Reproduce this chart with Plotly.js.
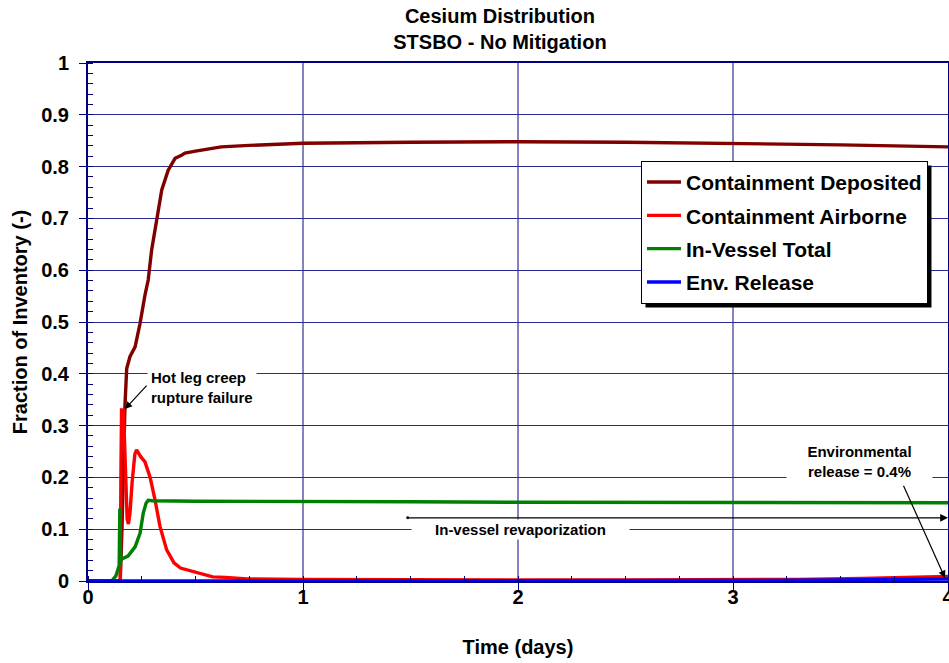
<!DOCTYPE html>
<html>
<head>
<meta charset="utf-8">
<script src="https://cdn.plot.ly/plotly-3.0.1.min.js"></script>
<style>html,body{margin:0;padding:0;background:#fff;}#chart{width:949px;height:663px;}</style>
</head>
<body>
<div id="chart"></div>
<script>
// ---- Data ----
const seriesNames = ["Containment Deposited", "Containment Airborne", "In-Vessel Total", "Env. Release"];

const depositedTime = [0, 0.15, 0.158, 0.165, 0.172, 0.18, 0.195, 0.219, 0.242, 0.265, 0.28, 0.296, 0.32, 0.343, 0.373, 0.405, 0.435, 0.451, 0.5, 0.59, 0.62, 0.75, 1.0, 1.5, 2.0, 2.5, 3.0, 3.5, 4.0];
const depositedValue = [0, 0, 0.1, 0.25, 0.34, 0.41, 0.433, 0.452, 0.497, 0.552, 0.581, 0.639, 0.703, 0.755, 0.793, 0.816, 0.822, 0.826, 0.83, 0.837, 0.838, 0.841, 0.845, 0.847, 0.848, 0.847, 0.845, 0.842, 0.838];

const airborneTime = [0, 0.15, 0.153, 0.156, 0.165, 0.175, 0.182, 0.188, 0.195, 0.205, 0.218, 0.226, 0.245, 0.265, 0.289, 0.312, 0.335, 0.366, 0.4, 0.43, 0.5, 0.58, 0.64, 0.74, 1.0, 1.5, 2.0, 2.5, 3.0, 3.3, 3.6, 3.8, 4.0];
const airborneValue = [0, 0, 0.2, 0.33, 0.33, 0.2, 0.12, 0.11, 0.13, 0.19, 0.245, 0.253, 0.24, 0.23, 0.2, 0.156, 0.105, 0.06, 0.035, 0.025, 0.017, 0.008, 0.007, 0.004, 0.003, 0.002, 0.002, 0.002, 0.002, 0.003, 0.005, 0.007, 0.009];

const vesselTime = [0, 0.11, 0.13, 0.145, 0.148, 0.152, 0.16, 0.186, 0.219, 0.242, 0.257, 0.27, 0.28, 0.3, 0.5, 1.0, 1.5, 2.0, 3.0, 4.0];
const vesselValue = [0, 0, 0.01, 0.03, 0.14, 0.04, 0.043, 0.048, 0.066, 0.092, 0.131, 0.15, 0.156, 0.155, 0.154, 0.154, 0.153, 0.152, 0.152, 0.151];

const releaseTime = [0, 1, 2, 3, 3.5, 3.8, 4.0];
const releaseValue = [0, 0, 0, 0.001, 0.002, 0.003, 0.004];

const xTickVals = [0, 1, 2, 3, 4];
const yTickVals = [0, 0.1, 0.2, 0.3, 0.4, 0.5, 0.6, 0.7, 0.8, 0.9, 1];

// ---- Styles ----
const FONT = "Arial, 'Liberation Sans', Helvetica, sans-serif";
const NAVY = "#000080";
const colors = ["#800000", "#ff0000", "#008000", "#0000ff"];

const xs = [depositedTime, airborneTime, vesselTime, releaseTime];
const ys = [depositedValue, airborneValue, vesselValue, releaseValue];

const traces = seriesNames.map((name, i) => ({
  type: "scatter",
  mode: "lines",
  name: name,
  x: xs[i],
  y: ys[i],
  legendgroup: "g" + i,
  line: {color: colors[i], width: 3.4},
  cliponaxis: true
}));

const layout = {
  width: 949,
  height: 663,
  paper_bgcolor: "#ffffff",
  plot_bgcolor: "#ffffff",
  margin: {l: 88, r: 1, t: 63, b: 82, pad: 0},
  font: {family: FONT, color: "#000", weight: "bold"},
  title: {
    text: "Cesium Distribution<br>STSBO - No Mitigation",
    font: {family: FONT, size: 20, weight: "bold", color: "#000"},
    xref: "paper", x: 0.479, xanchor: "center",
    yref: "container", y: 0.966, yanchor: "top"
  },
  xaxis: {
    range: [0, 4],
    tickvals: xTickVals,
    ticks: "outside", ticklen: 8, tickcolor: NAVY, tickwidth: 1,
    ticklabelstandoff: -11,
    ticklabeloverflow: "allow",
    tickfont: {family: FONT, size: 20, weight: "bold", color: "#000"},
    showgrid: true, gridcolor: "#8383c2", gridwidth: 1.5,
    showline: true, linecolor: NAVY, linewidth: 2, mirror: true,
    zeroline: false,
    minor: {dtick: 0.25, ticks: "inside", ticklen: 5, tickcolor: NAVY, showgrid: false},
    title: {text: "Time (days)", font: {family: FONT, size: 20, weight: "bold", color: "#000"}, standoff: 33}
  },
  yaxis: {
    range: [0, 1],
    tickvals: yTickVals,
    ticks: "outside", ticklen: 7, tickcolor: NAVY, tickwidth: 1,
    ticklabelstandoff: 6,
    tickfont: {family: FONT, size: 20, weight: "bold", color: "#000"},
    showgrid: true, gridcolor: "#2a2a92", gridwidth: 1,
    showline: true, linecolor: NAVY, linewidth: 2, mirror: true,
    zeroline: false,
    minor: {dtick: 0.02, ticks: "inside", ticklen: 5, tickcolor: NAVY, showgrid: false},
    title: {text: "Fraction of Inventory (-)", font: {family: FONT, size: 20, weight: "bold", color: "#000"}, standoff: 8}
  },
  showlegend: true,
  legend: {
    x: 0.643, xanchor: "left",
    y: 0.811, yanchor: "top",
    bgcolor: "#ffffff",
    bordercolor: "#000000", borderwidth: 1,
    font: {family: FONT, size: 21, weight: "bold", color: "#000"},
    tracegroupgap: 3,
    itemwidth: 34,
    traceorder: "grouped"
  },
  annotations: [
    {
      xref: "x", yref: "y", x: 0.275, y: 0.374,
      text: "Hot leg creep<br>rupture failure", showarrow: false,
      xanchor: "left", yanchor: "middle", align: "left",
      font: {family: FONT, size: 15, weight: "bold", color: "#000"},
      bgcolor: "#ffffff", borderpad: 3
    },
    {
      xref: "x", yref: "y", x: 0.172, y: 0.332,
      axref: "x", ayref: "y", ax: 0.279, ay: 0.38,
      text: "", showarrow: true, arrowhead: 2, arrowsize: 1.2, arrowwidth: 1.2, arrowcolor: "#000", standoff: 0
    },
    {
      xref: "x", yref: "y", x: 2.013, y: 0.1,
      text: "In-vessel revaporization", showarrow: false,
      xanchor: "center", yanchor: "middle",
      font: {family: FONT, size: 15, weight: "bold", color: "#000"},
      bgcolor: "#ffffff", width: 215, borderpad: 1
    },
    {
      xref: "x", yref: "y", x: 4.0, y: 0.122,
      axref: "x", ayref: "y", ax: 1.48, ay: 0.122,
      text: "", showarrow: true, arrowhead: 2, arrowsize: 1.3, arrowwidth: 1.2, arrowcolor: "#000",
      arrowside: "end+start", startarrowhead: 6, startarrowsize: 0.6, standoff: 0, startstandoff: 0
    },
    {
      xref: "x", yref: "y", x: 3.59, y: 0.23,
      text: "Environmental<br>release = 0.4%", showarrow: false,
      xanchor: "center", yanchor: "middle",
      font: {family: FONT, size: 15, weight: "bold", color: "#000"},
      bgcolor: "#ffffff", width: 143, borderpad: 1
    },
    {
      xref: "x", yref: "y", x: 3.986, y: 0.006,
      axref: "x", ayref: "y", ax: 3.79, ay: 0.187,
      text: "", showarrow: true, arrowhead: 2, arrowsize: 1.2, arrowwidth: 1.2, arrowcolor: "#000", standoff: 0
    }
  ],
  shapes: []
};

Plotly.newPlot("chart", traces, layout, {displayModeBar: false, staticPlot: true}).then(gd => {
  // add a drop shadow behind the legend box, positioned from its rendered size
  const bg = gd.querySelector(".legend .bg");
  if (!bg) return;
  const box = bg.getBoundingClientRect();
  const host = gd.getBoundingClientRect();
  const sz = gd._fullLayout._size;
  const toX = px => (px - host.left - sz.l) / sz.w;
  const toY = py => 1 - (py - host.top - sz.t) / sz.h;
  const off = 4;
  return Plotly.relayout(gd, {
    shapes: [{
      type: "rect", xref: "paper", yref: "paper", layer: "above",
      x0: toX(box.left + off), x1: toX(box.right + off),
      y0: toY(box.bottom + off), y1: toY(box.top + off),
      fillcolor: "#000", line: {width: 0}
    }]
  });
});
</script>
</body>
</html>
